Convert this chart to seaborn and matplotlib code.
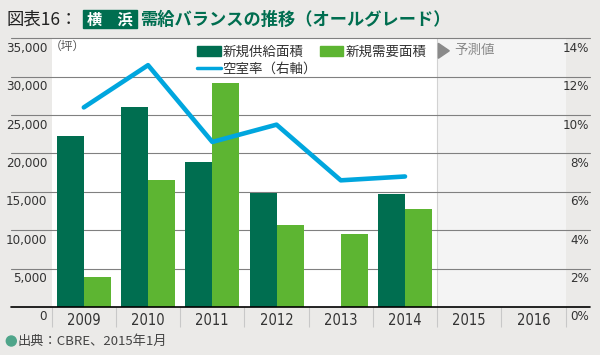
import numpy as np
import pandas as pd
import seaborn as sns
import matplotlib.pyplot as plt
import matplotlib.transforms as mtransforms
from matplotlib import font_manager
from matplotlib.patches import Patch, Rectangle, Polygon, Ellipse
from matplotlib.lines import Line2D

# values
years = ["2009", "2010", "2011", "2012", "2013", "2014", "2015", "2016"]
data_years = ["2009", "2010", "2011", "2012", "2013", "2014"]
supply = [22300, 26100, 18900, 14800, 0, 14700]     # 新規供給面積 (坪)
demand = [3950, 16600, 29200, 10650, 9500, 12800]   # 新規需要面積 (坪)
vacancy = [10.4, 12.6, 8.6, 9.5, 6.6, 6.8]          # 空室率 (%)
left_ticks = [0, 5000, 10000, 15000, 20000, 25000, 30000, 35000]
right_ticks = [0, 2, 4, 6, 8, 10, 12, 14]
series_names = ["新規供給面積", "新規需要面積"]
line_name = "空室率（右軸）"

dark = "#006e50"
light = "#5db532"
blue = "#00a6de"
bg = "#ebeae8"
W, H = 600, 355

sns.set_theme(style="white")
plt.rcParams["font.family"] = ["Noto Sans CJK JP", "DejaVu Sans"]
jp = "Noto Sans CJK JP"

# narrow face for the numbers if one is installed
narrow = [(f.name, f.stretch) for f in font_manager.fontManager.ttflist
          if "Narrow" in f.name or "Condensed" in f.name
          or str(f.stretch) in ("condensed", "semi-condensed", "extra-condensed")]
if narrow:
    num_font = {"family": narrow[0][0], "stretch": narrow[0][1]}
else:
    num_font = {"family": "Liberation Sans"}


def px(x, y):
    return x / W, 1 - y / H


df = pd.DataFrame({
    "year": data_years * 2,
    "area": supply + demand,
    "kind": [series_names[0]] * len(supply) + [series_names[1]] * len(demand),
})
vdf = pd.DataFrame({"year": data_years, "rate": vacancy})

fig = plt.figure(figsize=(6, 3.55), dpi=100, facecolor=bg)
ax = fig.add_axes([51.7 / W, 1 - 307 / H, 513.9 / W, (307 - 38.3) / H])
ax.set_facecolor("white")

sns.barplot(data=df, x="year", y="area", hue="kind", order=years,
            hue_order=series_names, palette=[dark, light], width=0.84,
            saturation=1, linewidth=0, legend=False, ax=ax, zorder=2)

ax2 = ax.twinx()
sns.pointplot(data=vdf, x="year", y="rate", order=years, color=blue,
              markers="", linewidth=3.3, errorbar=None, ax=ax2)

ax.set_xlim(-0.5, len(years) - 0.5)
ax.set_ylim(0, 35000)
ax2.set_ylim(0, 14)

# forecast area
ax.axvspan(5.5, len(years) - 0.5, color="#f4f4f4", zorder=0, lw=0)
ax.axvline(5.5, color="#d2d2d2", lw=0.8, zorder=0.5)

# grid lines running across the margins
for v in left_ticks[1:]:
    ax.axhline(v, xmin=-0.08, xmax=1.047, color="#808080", lw=0.8,
               clip_on=False, zorder=1)
ax.axhline(0, xmin=-0.08, xmax=1.047, color="black", lw=1.2,
           clip_on=False, zorder=3)

for a in (ax, ax2):
    for s in a.spines.values():
        s.set_visible(False)
    a.set_xlabel("")
    a.set_ylabel("")
    a.set_yticks([])

ax.set_xticks(range(len(years)))
ax.set_xticklabels(years, fontsize=10.5, color="#333333", **num_font)
ax.set_xticks(np.arange(-0.5, len(years), 1), minor=True)
ax.tick_params(axis="x", which="major", length=0, pad=4.5)
ax.tick_params(axis="x", which="minor", length=14.4, width=0.8,
               color="#c8c8c8", direction="out", bottom=True)

# y labels sit just below their grid lines
off = mtransforms.ScaledTranslation(0, -0.1, fig.dpi_scale_trans)
for v in left_ticks:
    ax.text(-0.009, v, f"{v:,}", transform=ax.get_yaxis_transform() + off,
            ha="right", va="center", fontsize=9.5, color="#333333", **num_font)
for v in right_ticks:
    ax2.text(1.0455, v, f"{v}%", transform=ax2.get_yaxis_transform() + off,
             ha="right", va="center", fontsize=9.5, color="#333333", **num_font)

# legend
handles = [Patch(color=dark, label=series_names[0]),
           Line2D([], [], color=blue, lw=2.5, label=line_name),
           Patch(color=light, label=series_names[1])]
leg = ax2.legend(handles=handles, ncol=2, loc="upper left",
                 bbox_to_anchor=px(197.3, 45), bbox_transform=fig.transFigure,
                 frameon=False, borderpad=0, borderaxespad=0,
                 handlelength=1.73, handleheight=0.8, handletextpad=0.15,
                 columnspacing=0.2, labelspacing=0.2,
                 prop={"family": jp, "size": 9.7})
for t in leg.get_texts():
    t.set_color("#333333")

# forecast marker
fig.patches.append(Polygon([px(438.3, 43.3), px(438.3, 58.3), px(449.3, 50.8)],
                           closed=True, color="#8a8a8a",
                           transform=fig.transFigure, figure=fig))
fig.text(*px(454, 50), "予測値", family=jp, fontsize=9.7, color="#8a8a8a",
         va="center", ha="left")
fig.text(*px(49.7, 46.7), "（坪）", family=jp, fontsize=8.5, color="#555555",
         va="center", ha="left")

# title
fig.text(*px(6.7, 20), "図表16：", family=jp, fontsize=12.5, color="#222222",
         va="center", ha="left")
fig.patches.append(Rectangle(px(83.3, 28.3), 54 / W, 18.3 / H, color=dark,
                             transform=fig.transFigure, figure=fig))
fig.text(*px(110.3, 19.5), "横　浜", family=jp, fontsize=11, color="white",
         weight="bold", va="center", ha="center")
fig.text(*px(140, 20), "需給バランスの推移（オールグレード）", family=jp,
         fontsize=12.4, color=dark, weight="bold", va="center", ha="left")

# source
fig.patches.append(Ellipse(px(11.3, 341), 10 / W, 10 / H, color="#4fa58a",
                           transform=fig.transFigure, figure=fig))
fig.text(*px(17.3, 341), "出典：CBRE、2015年1月", family=jp, fontsize=9.5,
         color="#444444", va="center", ha="left")

fig.savefig("out.png", dpi=100, facecolor=bg)
